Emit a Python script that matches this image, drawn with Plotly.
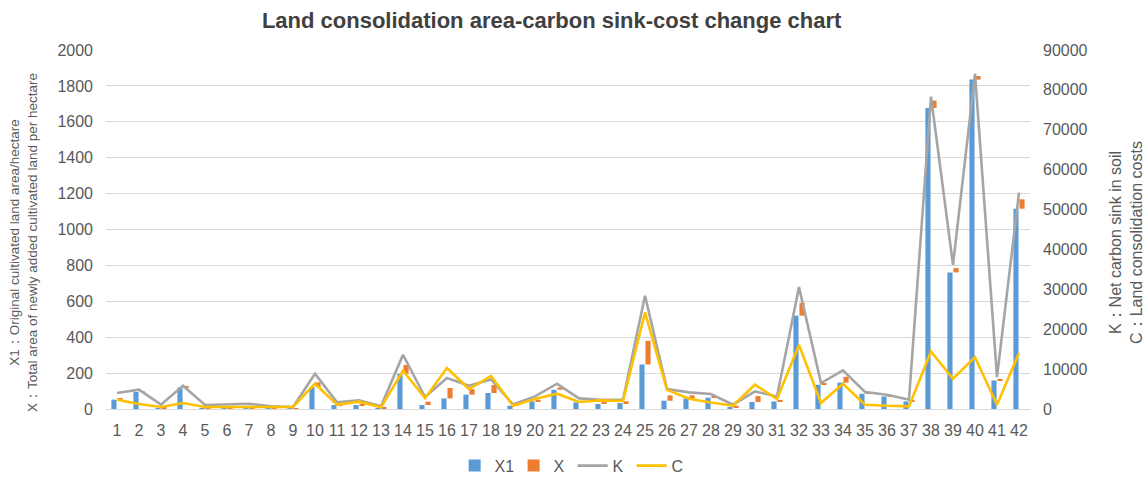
import plotly.graph_objects as go

categories = ["1", "2", "3", "4", "5", "6", "7", "8", "9", "10",
              "11", "12", "13", "14", "15", "16", "17", "18", "19", "20",
              "21", "22", "23", "24", "25", "26", "27", "28", "29", "30",
              "31", "32", "33", "34", "35", "36", "37", "38", "39", "40",
              "41", "42"]

X1 = [52, 95, 5, 120, 3, 3, 3, 3, 3, 122,
      22, 22, 5, 197, 22, 59, 80, 89, 18, 42,
      107, 37, 28, 33, 248, 46, 59, 63, 8, 39,
      42, 520, 135, 147, 85, 70, 42, 1677, 761, 1835,
      159, 1116]

X = [9, 5, 4, 5, 2, 2, 2, 2, 2, 26,
     3, 4, 4, 48, 19, 58, 30, 45, 3, 9,
     13, 4, 9, 10, 132, 30, 17, 4, 10, 33,
     8, 71, 7, 32, 3, 3, 4, 41, 24, 20,
     3, 52]

K = [4000, 4840, 1080, 5840, 1000, 1080, 1330, 670, 500, 8840,
     1670, 2160, 670, 13600, 3000, 7770, 5840, 7400, 1150, 3160,
     6340, 2660, 2330, 2330, 28380, 5000, 4160, 3760, 1080, 4400,
     3160, 30560, 6510, 9670, 4260, 3580, 2330, 78300, 36150, 84000,
     8000, 54260]

C = [2330, 1250, 500, 1500, 500, 500, 670, 500, 500, 6340,
     1090, 1840, 420, 9600, 2700, 10270, 5010, 8300, 830, 2500,
     3830, 1750, 2160, 2000, 24200, 4800, 2580, 1650, 830, 6090,
     2500, 16030, 1500, 6340, 1080, 800, 650, 14430, 7590, 13000,
     1080, 14030]

left_ticks = [0, 200, 400, 600, 800, 1000, 1200, 1400, 1600, 1800, 2000]
right_ticks = [0, 10000, 20000, 30000, 40000, 50000, 60000, 70000, 80000, 90000]

left_title = ("X1：Original cultivated land area/hectare<br>"
              "X：Total area of newly added cultivated land per hectare")
right_title = "K：Net carbon sink in soil<br>C：Land consolidation costs"

FONT = "Liberation Sans, Arial, sans-serif"
GREY_TXT = "#595959"

fig = go.Figure()
fig.add_trace(go.Bar(name="X1", x=categories, y=X1, marker_color="#5B9BD5",
                     marker_line_width=0, yaxis="y"))
fig.add_trace(go.Bar(name="X", x=categories, y=X, base=X1, marker_color="#ED7D31",
                     marker_line_width=0, yaxis="y"))
fig.add_trace(go.Scatter(name="K", x=categories, y=K, mode="lines",
                         line=dict(color="#A5A5A5", width=2.6), yaxis="y2"))
fig.add_trace(go.Scatter(name="C", x=categories, y=C, mode="lines",
                         line=dict(color="#FFC000", width=2.6), yaxis="y2"))

fig.update_layout(
    width=1148, height=477,
    margin=dict(l=106, r=118, t=50, b=68, autoexpand=False),
    paper_bgcolor="white", plot_bgcolor="white",
    font=dict(family=FONT, color=GREY_TXT, size=16),
    title=dict(text="<b>Land consolidation area-carbon sink-cost change chart</b>",
               x=0.4805, xanchor="center", y=0.958, yanchor="middle",
               xref="container", yref="container",
               font=dict(size=22, color="#404040", family=FONT)),
    barmode="group", bargap=0.45, bargroupgap=0.15,
    showlegend=True,
    legend=dict(orientation="h", x=0.505, xanchor="center", y=-0.158, yanchor="middle",
                font=dict(size=16, color=GREY_TXT), itemwidth=30,
                entrywidth=14, entrywidthmode="pixels",
                traceorder="normal"),
    xaxis=dict(type="category", categoryorder="array", categoryarray=categories,
               showgrid=False, showline=True, linecolor="#D9D9D9", linewidth=1,
               ticks="", tickfont=dict(size=16, color=GREY_TXT),
               ticklabelstandoff=7, automargin=False),
    yaxis=dict(range=[0, 2000], tickvals=left_ticks, showgrid=True,
               gridcolor="#D9D9D9", gridwidth=1, zeroline=False,
               tickfont=dict(size=16, color=GREY_TXT), ticklabelstandoff=12,
               automargin=False),
    yaxis2=dict(range=[0, 90000], tickvals=right_ticks, overlaying="y", side="right",
                showgrid=False, zeroline=False, tickformat="d",
                tickfont=dict(size=16, color=GREY_TXT), ticklabelstandoff=12,
                automargin=False),
    annotations=[
        dict(text=left_title, textangle=-90, xref="paper", yref="paper",
             x=-0.0885, y=0.463, xanchor="center", yanchor="middle",
             showarrow=False, align="center",
             font=dict(size=13.5, color=GREY_TXT, family=FONT)),
        dict(text=right_title, textangle=-90, xref="paper", yref="paper",
             x=1.104, y=0.463, xanchor="center", yanchor="middle",
             showarrow=False, align="center",
             font=dict(size=16, color=GREY_TXT, family=FONT)),
    ],
)

fig.write_html("out.html", config={"displayModeBar": False},
               post_script="document.body.style.margin='0';document.body.style.overflow='hidden';")
